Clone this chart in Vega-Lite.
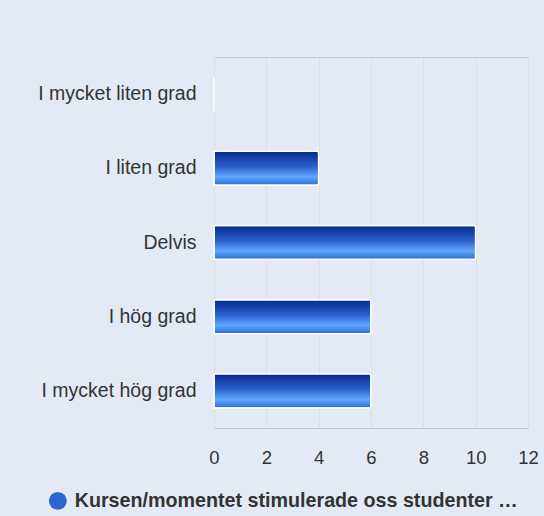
{
  "$schema": "https://vega.github.io/schema/vega-lite/v6.json",
  "width": 314,
  "height": 371,
  "autosize": {"type": "none"},
  "padding": {"left": 214, "top": 57, "right": 16, "bottom": 88},
  "background": "#e4eaf5",
  "config": {
    "view": {"stroke": "#c8c8c8", "strokeWidth": 1},
    "font": "Liberation Sans"
  },
  "data": {
    "values": [
      {"kategori": "I mycket liten grad", "antal": 0, "serie": "Kursen/momentet stimulerade oss studenter …"},
      {"kategori": "I liten grad", "antal": 4, "serie": "Kursen/momentet stimulerade oss studenter …"},
      {"kategori": "Delvis", "antal": 10, "serie": "Kursen/momentet stimulerade oss studenter …"},
      {"kategori": "I hög grad", "antal": 6, "serie": "Kursen/momentet stimulerade oss studenter …"},
      {"kategori": "I mycket hög grad", "antal": 6, "serie": "Kursen/momentet stimulerade oss studenter …"}
    ]
  },
  "encoding": {
    "y": {
      "field": "kategori",
      "type": "nominal",
      "sort": null,
      "scale": {"paddingInner": 0.54, "paddingOuter": 0.27},
      "axis": {
        "title": null,
        "ticks": false,
        "domain": false,
        "labelFontSize": 19.5,
        "labelColor": "#333333",
        "labelPadding": 18,
        "labelLimit": 300
      }
    },
    "x": {
      "field": "antal",
      "type": "quantitative",
      "scale": {"domain": [0, 12], "nice": false},
      "axis": {
        "title": null,
        "values": [0, 2, 4, 6, 8, 10, 12],
        "ticks": false,
        "domain": false,
        "grid": true,
        "gridColor": "#dedede",
        "labelFontSize": 18.5,
        "labelColor": "#333333",
        "labelPadding": 20,
        "labelFlush": false
      }
    }
  },
  "layer": [
    {
      "mark": {
        "type": "bar",
        "stroke": "white",
        "strokeWidth": 1.5,
        "cornerRadiusEnd": 2,
        "fill": {
          "gradient": "linear",
          "x1": 0, "y1": 0, "x2": 0, "y2": 1,
          "stops": [
            {"offset": 0, "color": "#06298a"},
            {"offset": 0.45, "color": "#2a5fcc"},
            {"offset": 0.75, "color": "#60a8ff"},
            {"offset": 1, "color": "#2a6ad4"}
          ]
        }
      }
    },
    {
      "mark": {"type": "bar", "opacity": 0},
      "encoding": {
        "color": {
          "field": "serie",
          "type": "nominal",
          "scale": {"range": ["#2d66d2"]},
          "legend": {
            "title": null,
            "orient": "none",
            "legendX": -166,
            "legendY": 434,
            "symbolType": "circle",
            "symbolSize": 320,
            "symbolOpacity": 1,
            "symbolStrokeWidth": 0,
            "labelFontSize": 19.7,
            "labelFontWeight": "bold",
            "labelColor": "#333333",
            "labelLimit": 600,
            "labelOffset": 7
          }
        }
      }
    }
  ]
}
